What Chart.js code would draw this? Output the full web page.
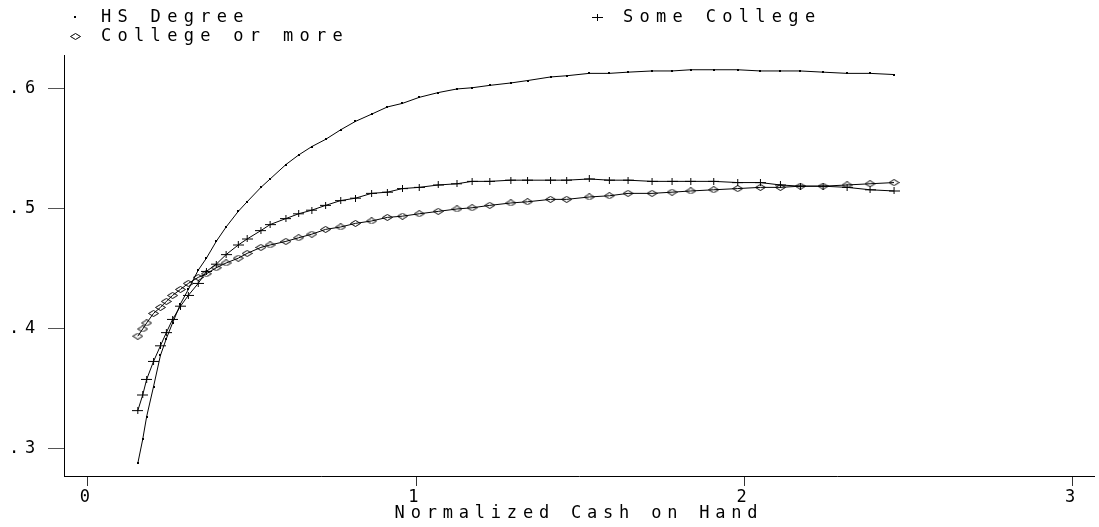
<!DOCTYPE html>
<html>
<head>
<meta charset="utf-8">
<title>Cash on hand by education</title>
<script src="https://cdn.jsdelivr.net/npm/chart.js@4.4.1/dist/chart.umd.min.js"></script>
<style>
    html, body { margin: 0; padding: 0; background: #fff; }
    #wrap { position: relative; width: 1099px; height: 527px; }
</style>
</head>
<body>
<div id="wrap"><canvas id="cash-chart"></canvas></div>
<script>
// values
const cashOnHand = [0.152, 0.167, 0.179, 0.200, 0.221, 0.239, 0.258, 0.282, 0.306, 0.336,
    0.361, 0.391, 0.421, 0.458, 0.485, 0.527, 0.555, 0.603, 0.642, 0.682,
    0.724, 0.770, 0.815, 0.864, 0.912, 0.958, 1.009, 1.067, 1.124, 1.170,
    1.224, 1.288, 1.339, 1.409, 1.458, 1.527, 1.588, 1.645, 1.718, 1.779,
    1.836, 1.906, 1.979, 2.048, 2.109, 2.170, 2.239, 2.312, 2.382, 2.455];
const hsDegree = [0.288, 0.308, 0.327, 0.352, 0.378, 0.392, 0.405, 0.421, 0.433, 0.449,
    0.459, 0.473, 0.485, 0.498, 0.506, 0.518, 0.525, 0.537, 0.545, 0.552,
    0.558, 0.566, 0.573, 0.579, 0.585, 0.588, 0.593, 0.597, 0.600, 0.601,
    0.603, 0.605, 0.607, 0.610, 0.611, 0.613, 0.613, 0.614, 0.615, 0.615,
    0.616, 0.616, 0.616, 0.615, 0.615, 0.615, 0.614, 0.613, 0.613, 0.612];
const someCollege = [0.332, 0.345, 0.358, 0.373, 0.386, 0.397, 0.408, 0.419, 0.428, 0.438,
    0.448, 0.454, 0.462, 0.470, 0.475, 0.482, 0.487, 0.492, 0.496, 0.499,
    0.503, 0.507, 0.509, 0.513, 0.514, 0.517, 0.518, 0.520, 0.521, 0.523,
    0.523, 0.524, 0.524, 0.524, 0.524, 0.525, 0.524, 0.524, 0.523, 0.523,
    0.523, 0.523, 0.522, 0.522, 0.520, 0.519, 0.519, 0.518, 0.516, 0.515];
const collegeOrMore = [0.394, 0.400, 0.405, 0.413, 0.418, 0.423, 0.428, 0.433, 0.438, 0.443,
    0.446, 0.451, 0.455, 0.459, 0.463, 0.468, 0.470, 0.473, 0.476, 0.479,
    0.483, 0.485, 0.488, 0.490, 0.493, 0.494, 0.496, 0.498, 0.500, 0.501,
    0.503, 0.505, 0.506, 0.508, 0.508, 0.510, 0.511, 0.513, 0.513, 0.514,
    0.515, 0.516, 0.517, 0.518, 0.518, 0.519, 0.519, 0.520, 0.521, 0.522];
const seriesNames = ["HS Degree", "Some College", "College or more"];
const xTicks = [0, 1, 2, 3];
const yTicks = [0.3, 0.4, 0.5, 0.6];
const xTitle = "Normalized Cash on Hand";

const FONT = "DejaVu Sans Mono";

// small marker images (stata style symbols)
function makeDot() {
    const c = document.createElement("canvas");
    c.width = 2; c.height = 2;
    const g = c.getContext("2d");
    g.fillStyle = "#000";
    g.fillRect(0, 0, 2, 2);
    return c;
}
function makePlus() {
    const c = document.createElement("canvas");
    c.width = 11; c.height = 7;
    const g = c.getContext("2d");
    g.strokeStyle = "#000";
    g.lineWidth = 1;
    g.beginPath();
    g.moveTo(0, 3.5); g.lineTo(11, 3.5);
    g.moveTo(5.5, 0); g.lineTo(5.5, 7);
    g.stroke();
    return c;
}
function makeDiamond() {
    const c = document.createElement("canvas");
    c.width = 11; c.height = 7;
    const g = c.getContext("2d");
    g.strokeStyle = "#000";
    g.lineWidth = 1;
    g.beginPath();
    g.moveTo(0.5, 3.5); g.lineTo(5.5, 0.5); g.lineTo(10.5, 3.5); g.lineTo(5.5, 6.5);
    g.closePath();
    g.stroke();
    return c;
}

function toPoints(ys) {
    return cashOnHand.map((x, i) => ({ x: x, y: ys[i] }));
}

// where the legend entries sit (marker centre)
const legendSpots = [{ x: 75, y: 17 }, { x: 597, y: 17 }, { x: 75, y: 36 }];

const spacingPlugin = {
    id: "spacing",
    beforeLayout(chart) { chart.ctx.letterSpacing = "5.8px"; },
    beforeDraw(chart) { chart.ctx.letterSpacing = "5.8px"; }
};

const legendPlugin = {
    id: "stataLegend",
    afterDraw(chart) {
        const ctx = chart.ctx;
        ctx.save();
        ctx.font = "17px '" + FONT + "'";
        ctx.letterSpacing = "6.3px";
        ctx.fillStyle = "#000";
        ctx.textBaseline = "middle";
        ctx.textAlign = "left";
        chart.data.datasets.forEach((ds, i) => {
            const spot = legendSpots[i];
            const img = ds.pointStyle;
            ctx.drawImage(img, Math.round(spot.x - img.width / 2), Math.round(spot.y - img.height / 2));
            ctx.fillText(ds.label, spot.x + 26, spot.y + 1);
        });
        ctx.restore();
    }
};

function createChart() {
    const ctx = document.querySelector("#cash-chart");
    const styles = [makeDot(), makePlus(), makeDiamond()];
    const values = [hsDegree, someCollege, collegeOrMore];
    const datasets = seriesNames.map((name, i) => ({
        label: name,
        data: toPoints(values[i]),
        showLine: true,
        borderColor: "#000",
        borderWidth: 1,
        tension: 0,
        pointStyle: styles[i],
        pointRadius: 4,
        pointHoverRadius: 4
    }));

    const options = {
        responsive: true,
        maintainAspectRatio: false,
        devicePixelRatio: 1,
        animation: false,
        layout: { padding: { top: 55, left: 0, right: 0, bottom: 0 } },
        plugins: {
            legend: { display: false },
            tooltip: { enabled: false }
        },
        scales: {
            x: {
                type: "linear",
                min: -0.0727,
                max: 3.064,
                border: { display: true, color: "#000", width: 1 },
                grid: { drawOnChartArea: false, drawTicks: true, tickLength: 10, color: "#333" },
                afterBuildTicks: (scale) => { scale.ticks = xTicks.map(v => ({ value: v })); },
                afterFit: (scale) => { scale.height = 51; },
                ticks: {
                    color: "#000",
                    padding: 1,
                    maxRotation: 0,
                    font: { family: FONT, size: 17 },
                    callback: (v) => String(v)
                },
                title: {
                    display: true,
                    text: xTitle,
                    color: "#000",
                    font: { family: FONT, size: 17 },
                    padding: { top: 0, bottom: 3 }
                }
            },
            y: {
                type: "linear",
                min: 0.2775,
                max: 0.6283,
                border: { display: true, color: "#000", width: 1 },
                grid: { drawOnChartArea: false, drawTicks: true, tickLength: 16, color: "#555" },
                afterBuildTicks: (scale) => { scale.ticks = yTicks.map(v => ({ value: v })); },
                afterFit: (scale) => { scale.width = 64; },
                ticks: {
                    color: "#000",
                    padding: 7,
                    font: { family: FONT, size: 17 },
                    callback: (v) => v.toFixed(1).replace("0.", ".")
                }
            }
        }
    };

    const config = {
        type: "scatter",
        data: { datasets: datasets },
        options: options,
        plugins: [spacingPlugin, legendPlugin]
    };
    new Chart(ctx, config);
}

createChart();
</script>
</body>
</html>
